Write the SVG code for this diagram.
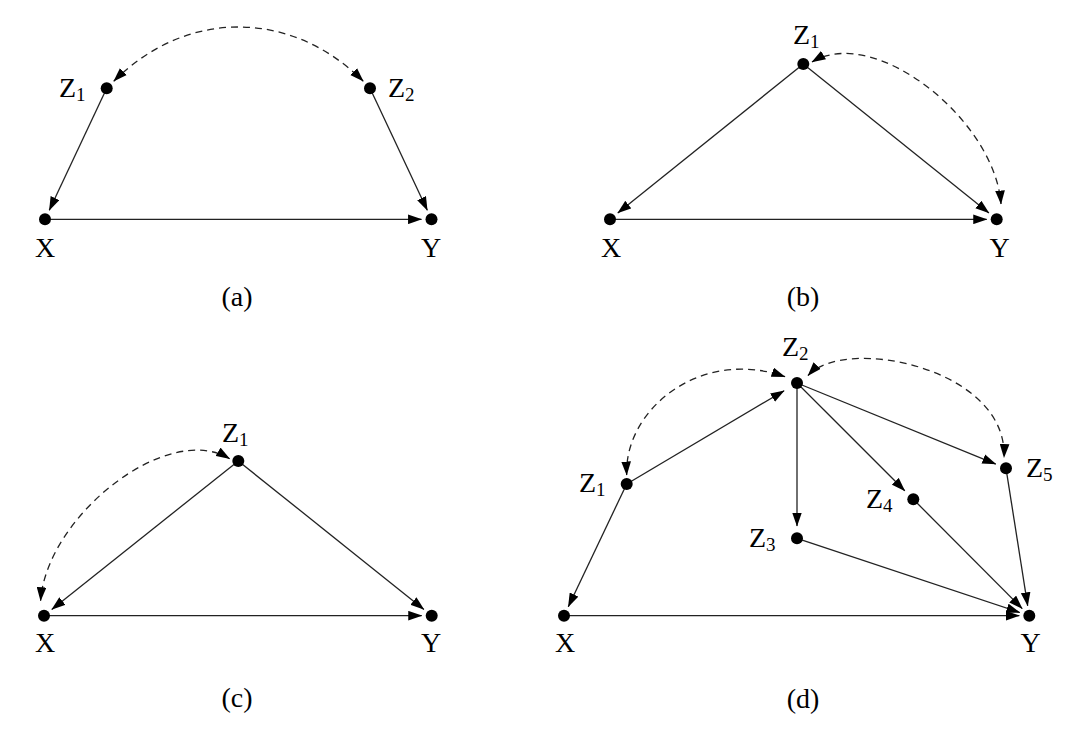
<svg xmlns="http://www.w3.org/2000/svg" width="1080" height="733" viewBox="0 0 1080 733">
<defs>
<marker id="arr" markerUnits="userSpaceOnUse" markerWidth="14" markerHeight="10" viewBox="0 0 13 9" refX="12.5" refY="4.5" orient="auto-start-reverse">
<path d="M0,0 L13,4.5 L0,9 z" fill="#000"/>
</marker>
<style>
.e{stroke:#222;stroke-width:1.3;fill:none;marker-end:url(#arr)}
.d{stroke:#222;stroke-width:1.3;fill:none;stroke-dasharray:7 5;marker-start:url(#arr);marker-end:url(#arr)}
.dot{fill:#000}
text{font-family:"Liberation Serif","DejaVu Serif",serif;font-size:28px;fill:#000}
.c{text-anchor:middle}
.sub{font-size:19px}
</style>
</defs>
<rect width="1080" height="733" fill="#fff"/>

<g id="connectors">
<!-- (a) -->
<path class="e" d="M106.7,88.3 L49.3,210.3"/>
<path class="e" d="M370,88.3 L427.3,210.3"/>
<path class="e" d="M45,219.3 L421.5,219.3"/>
<path class="d" d="M113.8,81.2 C186.1,8.9 290.9,8.9 363.2,81.2"/>
<!-- (b) -->
<path class="e" d="M803.3,64 L617.8,213"/>
<path class="e" d="M803.3,64 L988.9,213"/>
<path class="e" d="M610,219.3 L986.7,219.3"/>
<path class="d" d="M812,62 C875,24 995,120 1001,204"/>
<!-- (c) -->
<path class="e" d="M238.3,461 L51.8,609.4"/>
<path class="e" d="M238.3,461 L423.9,609.4"/>
<path class="e" d="M44,615.7 L421.7,615.7"/>
<path class="d" d="M229.6,458.7 C166.6,420.7 46.6,516.7 40.6,600.7"/>
<!-- (d) -->
<path class="e" d="M626.7,484 L784.1,390.7"/>
<path class="e" d="M797,383 L797,526"/>
<path class="e" d="M797,383 L904.8,490.8"/>
<path class="e" d="M797,383 L995.8,464.1"/>
<path class="e" d="M626.7,484 L568.3,606.7"/>
<path class="e" d="M564,615.7 L1019.3,615.7"/>
<path class="e" d="M797,538.3 L1019.8,612.5"/>
<path class="e" d="M913.3,499.3 L1022.2,608.6"/>
<path class="e" d="M1006,468.3 L1027.7,605.8"/>
<path class="d" d="M626.7,475 C624,410 700,347 785,376.7"/>
<path class="d" d="M808,375.5 C845,335 1008,368 1004,457.5"/>
</g>

<!-- panel (a) -->
<g id="a-Z1"><circle class="dot" cx="106.7" cy="88.3" r="6"/><text x="59" y="97">Z<tspan class="sub" dy="4">1</tspan></text></g>
<g id="a-Z2"><circle class="dot" cx="370" cy="88.3" r="6"/><text x="388" y="97">Z<tspan class="sub" dy="4">2</tspan></text></g>
<g id="a-X"><circle class="dot" cx="45" cy="219.3" r="6"/><text class="c" x="45" y="257">X</text></g>
<g id="a-Y"><circle class="dot" cx="431.5" cy="219.3" r="6"/><text class="c" x="431" y="257">Y</text></g>
<text class="c" x="237" y="306">(a)</text>

<!-- panel (b) -->
<g id="b-Z1"><circle class="dot" cx="803.3" cy="64" r="6"/><text x="793" y="44">Z<tspan class="sub" dy="4">1</tspan></text></g>
<g id="b-X"><circle class="dot" cx="610" cy="219.3" r="6"/><text class="c" x="611" y="257">X</text></g>
<g id="b-Y"><circle class="dot" cx="996.7" cy="219.3" r="6"/><text class="c" x="999.5" y="257">Y</text></g>
<text class="c" x="803" y="306">(b)</text>

<!-- panel (c) -->
<g id="c-Z1"><circle class="dot" cx="238.3" cy="461" r="6"/><text x="222" y="441.5">Z<tspan class="sub" dy="4">1</tspan></text></g>
<g id="c-X"><circle class="dot" cx="44" cy="615.7" r="6"/><text class="c" x="45" y="652">X</text></g>
<g id="c-Y"><circle class="dot" cx="431.7" cy="615.7" r="6"/><text class="c" x="431" y="652">Y</text></g>
<text class="c" x="237" y="707">(c)</text>

<!-- panel (d) -->
<g id="d-Z1"><circle class="dot" cx="626.7" cy="484" r="6"/><text x="579" y="491.7">Z<tspan class="sub" dy="4">1</tspan></text></g>
<g id="d-Z2"><circle class="dot" cx="797" cy="383" r="6"/><text x="782" y="356">Z<tspan class="sub" dy="4">2</tspan></text></g>
<g id="d-Z3"><circle class="dot" cx="797" cy="538.3" r="6"/><text x="749" y="546.7">Z<tspan class="sub" dy="4">3</tspan></text></g>
<g id="d-Z4"><circle class="dot" cx="913.3" cy="499.3" r="6"/><text x="866" y="508">Z<tspan class="sub" dy="4">4</tspan></text></g>
<g id="d-Z5"><circle class="dot" cx="1006" cy="468.3" r="6"/><text x="1026" y="477">Z<tspan class="sub" dy="4">5</tspan></text></g>
<g id="d-X"><circle class="dot" cx="564" cy="615.7" r="6"/><text class="c" x="565" y="652">X</text></g>
<g id="d-Y"><circle class="dot" cx="1029.3" cy="615.7" r="6"/><text class="c" x="1030.5" y="652">Y</text></g>
<text class="c" x="803" y="708">(d)</text>
</svg>
